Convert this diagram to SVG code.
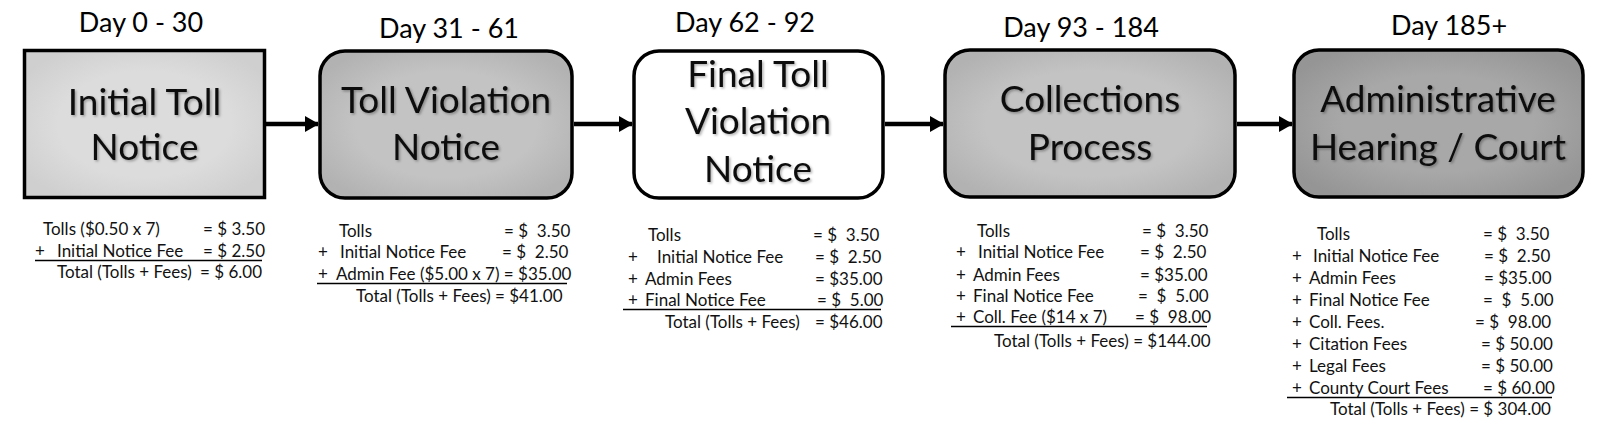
<svg xmlns="http://www.w3.org/2000/svg" width="1600" height="437" viewBox="0 0 1600 437">
<defs>
<radialGradient id="g1" cx="50%" cy="50%" r="60%"><stop offset="0.6" stop-color="#dcdcdc"/><stop offset="1" stop-color="#cfcfcf"/></radialGradient>
<radialGradient id="g2" cx="50%" cy="50%" r="60%"><stop offset="0.6" stop-color="#c3c3c3"/><stop offset="1" stop-color="#b2b2b2"/></radialGradient>
<radialGradient id="g5" cx="50%" cy="50%" r="60%"><stop offset="0.55" stop-color="#a8a8a8"/><stop offset="1" stop-color="#959595"/></radialGradient>
<filter id="sh" x="-5%" y="-10%" width="110%" height="130%"><feDropShadow dx="1.5" dy="1.5" stdDeviation="1" flood-color="#000" flood-opacity="0.3"/></filter>
<marker id="ah" markerUnits="userSpaceOnUse" markerWidth="14" markerHeight="16" refX="13" refY="8" orient="auto"><path d="M0,0 L14,8 L0,16 Z" fill="#000"/></marker>
</defs>
<style>
.box{stroke:#000;stroke-width:3.5}
.bt{font-family:Lato,"Open Sans",sans-serif;font-size:37px;fill:#111;text-anchor:middle}
.dt{font-family:Lato,"Open Sans",sans-serif;font-size:27px;fill:#000;text-anchor:middle}
.t{font-family:Lato,"Open Sans",sans-serif;font-size:17px;fill:#111;white-space:pre}
.ul{stroke:#000;stroke-width:1.5}
.con{stroke:#000;stroke-width:4.5;fill:none;marker-end:url(#ah)}
</style>
<rect width="1600" height="437" fill="#fff"/>
<g id="connectors">
<line class="con" x1="266" y1="124" x2="318" y2="124"/>
<line class="con" x1="574" y1="124" x2="632" y2="124"/>
<line class="con" x1="885" y1="124" x2="943" y2="124"/>
<line class="con" x1="1237" y1="124" x2="1292" y2="124"/>
</g>
<g id="n1">
<text class="dt" x="141" y="32">Day 0 - 30</text>
<rect class="box" x="24.5" y="50.5" width="240" height="147" fill="url(#g1)"/>
<g filter="url(#sh)"><text class="bt" x="144.5" y="115">Initial Toll</text><text class="bt" x="144.5" y="160">Notice</text></g>
<text class="t" xml:space="preserve" x="43" y="235">Tolls ($0.50 x 7)</text><text class="t" xml:space="preserve" x="203" y="235">= $ 3.50</text>
<text class="t" x="35" y="257">+</text><text class="t" xml:space="preserve" x="57" y="257">Initial Notice Fee</text><text class="t" xml:space="preserve" x="203" y="257">= $ 2.50</text>
<line class="ul" x1="35" y1="260.5" x2="262" y2="260.5"/>
<text class="t" xml:space="preserve" x="57" y="278">Total (Tolls + Fees)</text><text class="t" xml:space="preserve" x="200" y="278">= $ 6.00</text>
</g>
<g id="n2">
<text class="dt" x="449" y="38">Day 31 - 61</text>
<rect class="box" x="320" y="51" width="252" height="147" rx="25" fill="url(#g2)"/>
<g filter="url(#sh)"><text class="bt" x="446" y="113">Toll Violation</text><text class="bt" x="446" y="160">Notice</text></g>
<text class="t" x="339" y="237">Tolls</text><text class="t" xml:space="preserve" x="504" y="237">= $  3.50</text>
<text class="t" x="318" y="258">+</text><text class="t" xml:space="preserve" x="340" y="258">Initial Notice Fee</text><text class="t" xml:space="preserve" x="502" y="258">= $  2.50</text>
<text class="t" x="318" y="280">+</text><text class="t" xml:space="preserve" x="336" y="280">Admin Fee ($5.00 x 7) = $35.00</text>
<line class="ul" x1="317" y1="283.5" x2="567" y2="283.5"/>
<text class="t" xml:space="preserve" x="356" y="302">Total (Tolls + Fees)</text><text class="t" xml:space="preserve" x="495" y="302">= $41.00</text>
</g>
<g id="n3">
<text class="dt" x="745" y="32">Day 62 - 92</text>
<rect class="box" x="634" y="51" width="249" height="147" rx="25" fill="#fff"/>
<g filter="url(#sh)"><text class="bt" x="758" y="87">Final Toll</text><text class="bt" x="758" y="134">Violation</text><text class="bt" x="758" y="182">Notice</text></g>
<text class="t" x="648" y="241">Tolls</text><text class="t" xml:space="preserve" x="813" y="241">= $  3.50</text>
<text class="t" x="628" y="263">+</text><text class="t" xml:space="preserve" x="657" y="263">Initial Notice Fee</text><text class="t" xml:space="preserve" x="815" y="263">= $  2.50</text>
<text class="t" x="628" y="285">+</text><text class="t" xml:space="preserve" x="645" y="285">Admin Fees</text><text class="t" xml:space="preserve" x="815" y="285">= $35.00</text>
<text class="t" x="628" y="306">+</text><text class="t" xml:space="preserve" x="645" y="306">Final Notice Fee</text><text class="t" xml:space="preserve" x="817" y="306">= $  5.00</text>
<line class="ul" x1="623" y1="309.5" x2="881" y2="309.5"/>
<text class="t" xml:space="preserve" x="665" y="328">Total (Tolls + Fees)</text><text class="t" xml:space="preserve" x="815" y="328">= $46.00</text>
</g>
<g id="n4">
<text class="dt" x="1081" y="37">Day 93 - 184</text>
<rect class="box" x="945" y="50" width="290" height="147" rx="25" fill="url(#g2)"/>
<g filter="url(#sh)"><text class="bt" x="1090" y="112">Collections</text><text class="bt" x="1090" y="160">Process</text></g>
<text class="t" x="977" y="237">Tolls</text><text class="t" xml:space="preserve" x="1142" y="237">= $  3.50</text>
<text class="t" x="956" y="258">+</text><text class="t" xml:space="preserve" x="978" y="258">Initial Notice Fee</text><text class="t" xml:space="preserve" x="1140" y="258">= $  2.50</text>
<text class="t" x="956" y="281">+</text><text class="t" xml:space="preserve" x="973" y="281">Admin Fees</text><text class="t" xml:space="preserve" x="1140" y="281">= $35.00</text>
<text class="t" x="956" y="302">+</text><text class="t" xml:space="preserve" x="973" y="302">Final Notice Fee</text><text class="t" xml:space="preserve" x="1138" y="302">=  $  5.00</text>
<text class="t" x="956" y="323">+</text><text class="t" xml:space="preserve" x="973" y="323">Coll. Fee ($14 x 7)</text><text class="t" xml:space="preserve" x="1135" y="323">= $  98.00</text>
<line class="ul" x1="951" y1="326.5" x2="1207" y2="326.5"/>
<text class="t" xml:space="preserve" x="994" y="347">Total (Tolls + Fees) = $144.00</text>
</g>
<g id="n5">
<text class="dt" x="1449" y="35">Day 185+</text>
<rect class="box" x="1294" y="50" width="289" height="147" rx="25" fill="url(#g5)"/>
<g filter="url(#sh)"><text class="bt" x="1438" y="112">Administrative</text><text class="bt" x="1438" y="160">Hearing / Court</text></g>
<text class="t" x="1317" y="240">Tolls</text><text class="t" xml:space="preserve" x="1483" y="240">= $  3.50</text>
<text class="t" x="1292" y="262">+</text><text class="t" xml:space="preserve" x="1313" y="262">Initial Notice Fee</text><text class="t" xml:space="preserve" x="1484" y="262">= $  2.50</text>
<text class="t" x="1292" y="284">+</text><text class="t" xml:space="preserve" x="1309" y="284">Admin Fees</text><text class="t" xml:space="preserve" x="1484" y="284">= $35.00</text>
<text class="t" x="1292" y="306">+</text><text class="t" xml:space="preserve" x="1309" y="306">Final Notice Fee</text><text class="t" xml:space="preserve" x="1483" y="306">=  $  5.00</text>
<text class="t" x="1292" y="328">+</text><text class="t" xml:space="preserve" x="1309" y="328">Coll. Fees.</text><text class="t" xml:space="preserve" x="1475" y="328">= $  98.00</text>
<text class="t" x="1292" y="350">+</text><text class="t" xml:space="preserve" x="1309" y="350">Citation Fees</text><text class="t" xml:space="preserve" x="1481" y="350">= $ 50.00</text>
<text class="t" x="1292" y="372">+</text><text class="t" xml:space="preserve" x="1309" y="372">Legal Fees</text><text class="t" xml:space="preserve" x="1481" y="372">= $ 50.00</text>
<text class="t" x="1292" y="394">+</text><text class="t" xml:space="preserve" x="1309" y="394">County Court Fees</text><text class="t" xml:space="preserve" x="1483" y="394">= $ 60.00</text>
<line class="ul" x1="1287" y1="397.5" x2="1552" y2="397.5"/>
<text class="t" xml:space="preserve" x="1330" y="415">Total (Tolls + Fees) = $ 304.00</text>
</g>
</svg>
